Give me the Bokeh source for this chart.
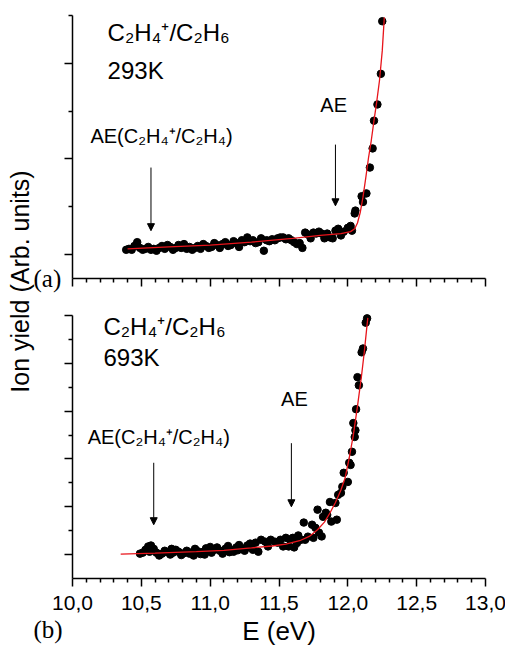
import math
from bokeh.plotting import figure
from bokeh.models import (Range1d, FixedTicker, Label, Arrow, NormalHead,
                          CustomJSTickFormatter)
from bokeh.core.properties import value
from bokeh.layouts import row, column
from bokeh.embed import file_html
from bokeh.resources import INLINE

# ---------------- data ----------------
x_major = [10.0, 10.5, 11.0, 11.5, 12.0, 12.5, 13.0]
x_tick_labels = ["10,0", "10,5", "11,0", "11,5", "12,0", "12,5", "13,0"]
x_minor = [10.1, 10.2, 10.3, 10.4, 10.6, 10.7, 10.8, 10.9, 11.1, 11.2, 11.3, 11.4,
           11.6, 11.7, 11.8, 11.9, 12.1, 12.2, 12.3, 12.4, 12.6, 12.7, 12.8, 12.9]

# (a) 293 K
top_E = [10.39, 10.41, 10.43, 10.45, 10.47, 10.49, 10.51, 10.53, 10.55, 10.57,
         10.59, 10.61, 10.63, 10.65, 10.67, 10.69, 10.71, 10.73, 10.75, 10.77,
         10.79, 10.81, 10.83, 10.85, 10.87, 10.89, 10.91, 10.93, 10.95, 10.97,
         10.99, 11.01, 11.03, 11.05, 11.07, 11.09, 11.11, 11.13, 11.15, 11.17,
         11.19, 11.21, 11.23, 11.25, 11.27, 11.29, 11.31, 11.33, 11.35, 11.37,
         11.39, 11.41, 11.43, 11.45, 11.47, 11.49, 11.51, 11.53, 11.55, 11.57,
         11.59, 11.61, 11.63, 11.65, 11.67, 11.69, 11.71, 11.73, 11.75, 11.77,
         11.79, 11.81, 11.83, 11.85, 11.87, 11.89, 11.91, 11.93, 11.95, 11.97,
         12.00, 12.02, 12.03, 12.05, 12.055, 12.10, 12.11, 12.135, 12.16, 12.18,
         12.19, 12.215, 12.24, 12.25]
top_Y = [1.05, 1.06, 1.05, 1.09, 1.13, 1.07, 1.05, 1.06, 1.08, 1.05,
         1.06, 1.04, 1.07, 1.09, 1.06, 1.10, 1.08, 1.05, 1.07, 1.10,
         1.07, 1.11, 1.06, 1.08, 1.05, 1.07, 1.09, 1.06, 1.11, 1.09,
         1.07, 1.08, 1.12, 1.10, 1.07, 1.11, 1.13, 1.09, 1.10, 1.14,
         1.12, 1.08, 1.15, 1.13, 1.18, 1.14, 1.15, 1.12, 1.13, 1.17,
         1.04, 1.15, 1.14, 1.16, 1.15, 1.17, 1.18, 1.18, 1.16, 1.17,
         1.15, 1.13, 1.11, 1.12, 1.07, 1.23, 1.21, 1.17, 1.23, 1.22,
         1.24, 1.22, 1.17, 1.22, 1.18, 1.17, 1.25, 1.27, 1.20, 1.24,
         1.28, 1.30, 1.25, 1.43, 1.46, 1.61, 1.55, 1.64, 1.91, 2.11,
         2.40, 2.57, 2.89, 3.44]
top_fit_E = [10.40, 10.70, 11.00, 11.30, 11.60, 11.80, 11.95, 12.02, 12.05, 12.07,
             12.09, 12.11, 12.13, 12.15, 12.17, 12.19, 12.21, 12.23, 12.25, 12.265]
top_fit_Y = [1.06, 1.08, 1.10, 1.13, 1.17, 1.20, 1.22, 1.24, 1.27, 1.33,
             1.44, 1.60, 1.80, 2.01, 2.19, 2.40, 2.60, 2.82, 3.13, 3.48]

# (b) 693 K
bot_E = [10.49, 10.51, 10.53, 10.55, 10.57, 10.59, 10.61, 10.63, 10.65, 10.67,
         10.69, 10.71, 10.73, 10.75, 10.77, 10.79, 10.81, 10.83, 10.85, 10.87,
         10.89, 10.91, 10.93, 10.95, 10.97, 10.99, 11.01, 11.03, 11.05, 11.07,
         11.09, 11.11, 11.13, 11.15, 11.17, 11.19, 11.21, 11.23, 11.25, 11.27,
         11.29, 10.56, 10.72, 10.88, 11.00, 11.14, 11.26, 10.96, 11.20,
         11.31, 11.33, 11.35, 11.37, 11.40, 11.42, 11.44, 11.47, 11.49, 11.51,
         11.53, 11.55, 11.58, 11.57, 11.60, 11.61, 11.63, 11.64, 11.66, 11.68,
         11.69, 11.71, 11.74, 11.75, 11.765, 11.78, 11.79, 11.82, 11.81, 11.84,
         11.85, 11.87, 11.88, 11.91, 11.92, 11.93, 11.95, 11.96, 11.97, 12.00,
         12.01, 12.02, 12.03, 12.04, 12.05, 12.055, 12.06, 12.07, 12.08, 12.10,
         12.11, 12.13, 12.14]
bot_Y = [1.02, 1.04, 1.10, 1.17, 1.19, 1.12, 1.04, 0.98, 1.02, 1.08,
         1.05, 1.00, 1.04, 1.10, 1.06, 0.99, 1.03, 1.08, 1.02, 1.05,
         1.12, 1.07, 1.01, 1.06, 1.13, 1.09, 1.04, 1.10, 1.15, 1.08,
         1.02, 1.12, 1.18, 1.10, 1.06, 1.15, 1.20, 1.12, 1.08, 1.19,
         1.23, 1.06, 1.12, 0.98, 1.16, 1.05, 1.14, 1.00, 1.09,
         1.10, 1.25, 1.06, 1.31, 1.27, 1.17, 1.31, 1.27, 1.25, 1.31,
         1.17, 1.35, 1.31, 1.17, 1.35, 1.15, 1.24, 1.40, 1.31, 1.67,
         1.31, 1.375, 1.625, 1.35, 1.56, 1.94, 1.46, 1.79, 1.38, 1.875,
         1.83, 2.10, 1.69, 2.08, 1.73, 2.25, 2.29, 2.42, 2.71, 2.52,
         2.92, 2.875, 3.15, 3.75, 3.46, 3.60, 4.04, 4.71, 4.54, 5.23,
         5.31, 5.85, 5.94]
bot_fit_E = [10.35, 10.60, 10.90, 11.10, 11.30, 11.45, 11.55, 11.65, 11.72, 11.78,
             11.83, 11.87, 11.91, 11.95, 11.98, 12.01, 12.04, 12.07, 12.10, 12.12,
             12.145]
bot_fit_Y = [1.01, 1.03, 1.06, 1.09, 1.14, 1.18, 1.22, 1.29, 1.38, 1.52,
             1.68, 1.87, 2.09, 2.35, 2.60, 3.02, 3.50, 4.10, 4.75, 5.25,
             5.95]

SANS = "Liberation Sans"
SERIF = "Liberation Serif"

blank_fmt = CustomJSTickFormatter(code="return '';")

# layout geometry (pixels)
STRIP_W = 64          # left strip holding the shared y label and "(a)"
FRAME_L = 72          # left edge of both plot frames on the page
FRAME_R = 485         # right edge of both plot frames
PANEL_W = 434         # STRIP_W + PANEL_W = 498
PX_PER_EV = (FRAME_R - FRAME_L) / 3.0
AXIS_LEN = 263        # drawn length of each panel's y axis


def make_panel(height, b_top, head, b_bottom, y0, y1, y_major, y_minor):
    # the frame reaches `head` px above the top of the drawn y axis, so that text there is not clipped
    y_end = y1 + head * (y1 - y0) / AXIS_LEN
    p = figure(width=PANEL_W, height=height, x_range=Range1d(10, 13), y_range=Range1d(y0, y_end),
               output_backend="svg", toolbar_location=None,
               min_border_left=FRAME_L - STRIP_W, min_border_right=STRIP_W + PANEL_W - FRAME_R,
               min_border_top=b_top, min_border_bottom=b_bottom)
    p.grid.visible = False
    p.outline_line_color = None
    p.background_fill_color = "white"
    p.border_fill_color = "white"
    for ax in (p.xaxis[0], p.yaxis[0]):
        ax.axis_line_width = 1.5
        ax.axis_line_color = "black"
        ax.major_tick_line_width = 1.5
        ax.minor_tick_line_width = 1.5
        ax.major_tick_line_color = "black"
        ax.minor_tick_line_color = "black"
        ax.major_tick_in = 0
        ax.major_tick_out = 8
        ax.minor_tick_in = 0
        ax.minor_tick_out = 4
        ax.formatter = blank_fmt
        ax.major_label_standoff = 0
        ax.major_label_text_font_size = "1px"
    p.xaxis.ticker = FixedTicker(ticks=x_major, minor_ticks=x_minor)
    p.yaxis.ticker = FixedTicker(ticks=y_major, minor_ticks=y_minor)
    p.yaxis.bounds = (y0, y1)
    return p


def add_text(p, x, y, text, size="21px", font=SANS):
    p.add_layout(Label(x=x, y=y, text=text, text_font=font, text_font_size=size,
                       text_color="black", text_baseline="alphabetic", text_align="left"))


def add_arrow(p, x, y_start, y_end):
    p.add_layout(Arrow(end=NormalHead(size=7, fill_color="black", line_color="black", line_width=1),
                       x_start=x, y_start=y_start, x_end=x, y_end=y_end,
                       line_color="black", line_width=1))


def blank_canvas(width, height, x_range, y_range):
    f = figure(width=width, height=height, x_range=x_range, y_range=y_range,
               output_backend="svg", toolbar_location=None,
               x_axis_type=None, y_axis_type=None,
               min_border=0, min_border_left=0, min_border_right=0,
               min_border_top=0, min_border_bottom=0)
    f.grid.visible = False
    f.outline_line_color = None
    f.background_fill_color = "white"
    f.border_fill_color = "white"
    return f


# ---- panel (a) ----
pa = make_panel(296, 3, 12, 18, 0.75, 3.5, [1, 2, 3], [1.5, 2.5, 3.5])
pa.scatter(top_E, top_Y, size=7.5, color="black")
pa.line(top_fit_E, top_fit_Y, line_color="#e8141b", line_width=1.3)
add_text(pa, 10.255, 3.32, "C₂H₄⁺/C₂H₆", size="24px")
add_text(pa, 10.255, 2.92, "293K", size="24px")
add_text(pa, 10.13, 2.24, "AE(C₂H₄⁺/C₂H₄)", size="20px")
add_text(pa, 11.80, 2.565, "AE", size="20px")
add_arrow(pa, 10.57, 1.91, 1.25)
add_arrow(pa, 11.91, 2.15, 1.51)

# ---- panel (b) ----
pb = make_panel(294, 3, 16, 12, 0.5, 6.0, [1, 2, 3, 4, 5, 6], [1.5, 2.5, 3.5, 4.5, 5.5])
pb.scatter(bot_E, bot_Y, size=7.5, color="black")
pb.line(bot_fit_E, bot_fit_Y, line_color="#e8141b", line_width=1.3)
add_text(pb, 10.225, 5.78, "C₂H₄⁺/C₂H₆", size="24px")
add_text(pb, 10.225, 5.13, "693K", size="24px")
add_text(pb, 10.11, 3.46, "AE(C₂H₄⁺/C₂H₄)", size="20px")
add_text(pb, 11.515, 4.25, "AE", size="20px")
add_arrow(pb, 10.59, 2.92, 1.625)
add_arrow(pb, 11.59, 3.33, 2.0)

# ---- left strip: shared y label and "(a)" ----
STRIP_H = 590
ps = blank_canvas(STRIP_W, STRIP_H, Range1d(0, STRIP_W), Range1d(0, STRIP_H))
ps.add_layout(Label(x=19, y=309, text="Ion yield (Arb. units)", angle=math.pi / 2,
                    text_align="center", text_baseline="middle", text_font=SANS,
                    text_font_size="25px", text_color="black"))
ps.add_layout(Label(x=33, y=312, text="(a)", text_font=SERIF, text_font_size="25px",
                    text_color="black", text_baseline="alphabetic", text_align="left"))

# ---- bottom strip: E tick labels, axis title and "(b)", on the same energy scale ----
BOT_W, BOT_H = 505, 56
e_left = 10.0 - FRAME_L / PX_PER_EV
pbot = blank_canvas(BOT_W, BOT_H, Range1d(e_left, e_left + BOT_W / PX_PER_EV), Range1d(0, BOT_H))
pbot.text(x=x_major, y=[44] * len(x_major), text=x_tick_labels,
          text_font=value(SANS), text_font_size=value("21px"), text_color="black",
          text_align="center", text_baseline="alphabetic")
pbot.add_layout(Label(x=11.5, y=16, text="E (eV)", text_font=SANS, text_font_size="26px",
                      text_color="black", text_baseline="alphabetic", text_align="center"))
pbot.add_layout(Label(x=e_left + 33 / PX_PER_EV, y=17, text="(b)", text_font=SERIF,
                      text_font_size="25px", text_color="black",
                      text_baseline="alphabetic", text_align="left"))

layout = column(row(ps, column(pa, pb, spacing=0), spacing=0), pbot, spacing=0)

open("out.html", "w").write(file_html(layout, INLINE))
